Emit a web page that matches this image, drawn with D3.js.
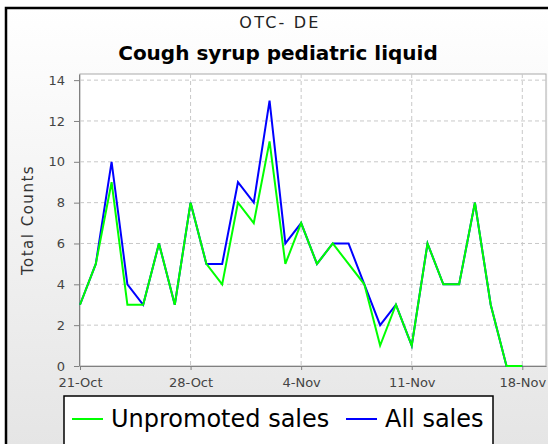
<!DOCTYPE html>
<html>
<head>
<meta charset="utf-8">
<script src="https://cdn.jsdelivr.net/npm/d3@7"></script>
<style>
  html, body { margin: 0; padding: 0; background: #fff; }
  svg { display: block; font-family: "DejaVu Sans", sans-serif; }
</style>
</head>
<body>
<div id="chart"></div>
<script>
// daily counts, 21-Oct to 18-Nov
var startDay = "2007-10-21";
var unpromoted = [3,5,9,3,3,6,3,8,5,4,8, 7,11,5,7,5,6,5,4,1,3,1,6,4,4,8,3,0,0];
var allSales   = [3,5,10,4,3,6,3,8,5,5,9, 8,13,6,7,5,6,6,4,2,3,1,6,4,4,8,3,0,0];
var yTicks = [0,2,4,6,8,10,12,14];
var xTickDays = ["2007-10-21","2007-10-28","2007-11-04","2007-11-11","2007-11-18"];
var seriesNames = ["Unpromoted sales", "All sales"];
var seriesColors = ["#00ff00", "#0000ff"];

var width = 548, height = 444;
var parse = d3.utcParse("%Y-%m-%d");
var t0 = parse(startDay);
var days = unpromoted.map(function(d, i){ return d3.utcDay.offset(t0, i); });

var svg = d3.select("#chart").append("svg")
    .attr("width", width)
    .attr("height", height);

//background gradient
var grad = svg.append("defs").append("linearGradient")
    .attr("id", "bg").attr("x1", 0).attr("y1", 0).attr("x2", 0).attr("y2", 1);
grad.append("stop").attr("offset", "0%").attr("stop-color", "#ffffff");
grad.append("stop").attr("offset", "100%").attr("stop-color", "#e4e4e4");

svg.append("rect")
    .attr("x", 6).attr("y", 8)
    .attr("width", width + 10).attr("height", height + 10)
    .attr("fill", "url(#bg)")
    .attr("stroke", "#000")
    .attr("stroke-width", 2.5);

//titles
svg.append("text")
    .attr("x", 280).attr("y", 28)
    .attr("text-anchor", "middle")
    .attr("font-size", 16)
    .attr("letter-spacing", 2.2)
    .attr("fill", "#222")
    .text("OTC- DE");
svg.append("text")
    .attr("x", 278).attr("y", 60)
    .attr("text-anchor", "middle")
    .attr("font-size", 20)
    .attr("font-weight", "bold")
    .attr("fill", "#000")
    .text("Cough syrup pediatric liquid");

//scales
var plotLeft = 80, plotRight = 546, plotTop = 74, plotBottom = 366;
var xScale = d3.scaleUtc()
    .domain([t0, d3.utcHour.offset(d3.utcDay.offset(t0, 29), 12)])
    .range([plotLeft, plotRight]);
var yScale = d3.scaleLinear()
    .domain([0, 14.3])
    .range([plotBottom, plotTop]);

//plot area
svg.append("rect")
    .attr("x", plotLeft).attr("y", plotTop)
    .attr("width", plotRight - plotLeft).attr("height", plotBottom - plotTop)
    .attr("fill", "#fff")
    .attr("stroke", "#aaa");

//grid lines
svg.append("g").selectAll("line")
    .data(yTicks.slice(1))
    .enter().append("line")
        .attr("x1", plotLeft).attr("x2", plotRight)
        .attr("y1", function(d){ return yScale(d); })
        .attr("y2", function(d){ return yScale(d); })
        .attr("stroke", "#c8c8c8")
        .attr("stroke-dasharray", "4,3");
svg.append("g").selectAll("line")
    .data(xTickDays.slice(1).map(parse))
    .enter().append("line")
        .attr("x1", function(d){ return xScale(d); })
        .attr("x2", function(d){ return xScale(d); })
        .attr("y1", plotTop).attr("y2", plotBottom)
        .attr("stroke", "#c8c8c8")
        .attr("stroke-dasharray", "4,3");

//axes
var yAxis = d3.axisLeft(yScale).tickValues(yTicks).tickSizeInner(5).tickSizeOuter(0).tickPadding(9);
var xAxis = d3.axisBottom(xScale).tickValues(xTickDays.map(parse))
    .tickFormat(d3.utcFormat("%-d-%b")).tickSizeInner(4).tickSizeOuter(0).tickPadding(8);

var gy = svg.append("g")
    .attr("transform", "translate(" + (plotLeft - 1) + ",0)")
    .call(yAxis);
var gx = svg.append("g")
    .attr("transform", "translate(0," + plotBottom + ")")
    .call(xAxis);
[gy, gx].forEach(function(g){
    g.select(".domain").attr("stroke", "#808080");
    g.selectAll(".tick line").attr("stroke", "#808080");
    g.selectAll("text").attr("font-size", 13).attr("fill", "#444")
        .attr("font-family", "DejaVu Sans, sans-serif");
});

svg.append("text")
    .attr("transform", "translate(33," + ((plotTop + plotBottom) / 2) + ") rotate(-90)")
    .attr("text-anchor", "middle")
    .attr("font-size", 15)
    .attr("letter-spacing", 1.5)
    .attr("fill", "#333")
    .text("Total Counts");

//lines
var line = d3.line()
    .x(function(d, i){ return xScale(days[i]); })
    .y(function(d){ return yScale(d); });

svg.append("path")
    .datum(allSales)
    .attr("d", line)
    .attr("fill", "none")
    .attr("stroke", seriesColors[1])
    .attr("stroke-width", 2);
svg.append("path")
    .datum(unpromoted)
    .attr("d", line)
    .attr("fill", "none")
    .attr("stroke", seriesColors[0])
    .attr("stroke-width", 2);

//legend
var legend = svg.append("g");
legend.append("rect")
    .attr("x", 64).attr("y", 396)
    .attr("width", 429).attr("height", 60)
    .attr("fill", "#fff")
    .attr("stroke", "#000")
    .attr("stroke-width", 1.5);
var legendX = [72, 346];
seriesNames.forEach(function(name, i){
    legend.append("line")
        .attr("x1", legendX[i]).attr("x2", legendX[i] + 31)
        .attr("y1", 419).attr("y2", 419)
        .attr("stroke", seriesColors[i])
        .attr("stroke-width", 2);
    legend.append("text")
        .attr("x", legendX[i] + 39).attr("y", 427)
        .attr("font-size", 24)
        .attr("fill", "#000")
        .text(name);
});
</script>
</body>
</html>
